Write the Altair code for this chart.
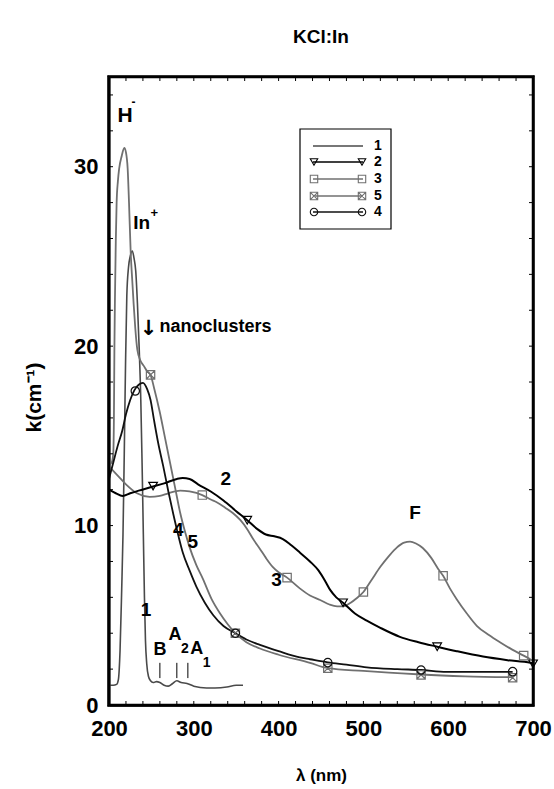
import altair as alt
import pandas as pd

# ---------------- data ----------------
c1_nm = [200, 205, 209, 211, 213, 215, 216.5, 218, 219.5, 221, 223, 225, 227.5, 229.5, 231.5, 233.5, 235.5, 237.5, 239, 240.5, 241.8, 243, 244.5, 246.5, 249, 252, 256, 260, 265, 270, 275, 280, 285, 292, 300, 315, 325, 339, 350, 358]
c1_k = [1.1, 1.1, 1.15, 1.4, 3.0, 6.5, 9.5, 14.0, 19.0, 22.8, 24.4, 25.0, 25.3, 24.9, 24.2, 22.4, 20.0, 17.0, 13.5, 9.5, 6.0, 3.6, 2.3, 1.6, 1.35, 1.25, 1.3, 1.25, 1.1, 1.05, 1.2, 1.35, 1.25, 1.2, 1.05, 0.95, 0.95, 1.0, 1.1, 1.1]

c2_nm = [200, 208, 216, 225, 235, 250, 265, 280, 287, 295, 305, 320, 335, 350, 363, 375, 385, 395, 405, 415, 425, 437, 447, 455, 461, 468, 476, 490, 504, 520, 543, 565, 587, 610, 641, 670, 697, 700]
c2_k = [12.0, 11.8, 11.65, 11.8, 11.95, 12.15, 12.35, 12.6, 12.65, 12.6, 12.3, 11.9, 11.4, 10.8, 10.3, 9.8, 9.5, 9.4, 9.25, 8.9, 8.5, 8.0, 7.5, 6.9, 6.4, 6.0, 5.7, 5.1, 4.7, 4.3, 3.8, 3.5, 3.25, 3.0, 2.7, 2.5, 2.35, 2.3]
c2_mk_nm = [252, 363, 476, 587, 700]
c2_mk_k = [12.2, 10.3, 5.7, 3.25, 2.3]

c3_nm = [200, 210, 220, 233, 248, 260, 270, 284, 295, 310, 320, 327, 337, 346, 355, 363, 370, 378, 385, 393, 400, 410, 425, 437, 449, 460, 469, 476, 485, 492, 500, 510, 520, 530, 540, 548, 555, 562, 570, 580, 588, 594, 602, 610, 622, 634, 648, 661, 675, 689, 697]
c3_k = [13.3, 12.8, 12.3, 11.8, 11.6, 11.65, 11.8, 11.95, 11.9, 11.7, 11.45, 11.3, 11.0, 10.7, 10.3, 9.8, 9.25, 8.7, 8.2, 7.7, 7.4, 7.1, 6.5, 6.1, 5.85, 5.6, 5.5, 5.5, 5.7, 5.95, 6.3, 7.0, 7.7, 8.3, 8.8, 9.05, 9.1, 9.0, 8.75, 8.2, 7.6, 7.2, 6.5, 5.9, 5.1, 4.4, 3.9, 3.5, 3.1, 2.75, 2.55]
c3_mk_nm = [310, 410, 500, 594, 689]
c3_mk_k = [11.7, 7.1, 6.3, 7.2, 2.75]

c5_nm = [200, 203, 205, 205.8, 206.4, 207, 208, 209, 210.5, 212, 215, 218, 220, 222, 223.6, 225.6, 227.5, 229, 231, 233.4, 237, 241, 245, 249, 253, 260, 266, 272, 278, 284, 290, 295, 303, 311, 321, 331, 340, 349, 362, 378, 400, 437, 458, 500, 540, 568, 620, 676]
c5_k = [13.4, 13.5, 14.0, 16.0, 20.0, 22.6, 25.8, 28.0, 29.2, 29.9, 30.6, 31.05, 30.8, 29.9, 28.0, 25.2, 23.6, 22.4, 21.0, 19.8, 19.2, 18.9, 18.6, 18.4, 17.7, 16.3, 14.9, 13.5, 12.1, 10.7, 9.6, 8.8, 7.8, 7.0, 5.9, 5.1, 4.5, 4.0, 3.5, 3.15, 2.8, 2.35, 2.05, 1.9, 1.78, 1.7, 1.6, 1.55]
c5_mk_nm = [249, 349, 458, 568, 676]
c5_mk_k = [18.4, 4.0, 2.05, 1.68, 1.52]

c4_nm = [200, 205, 210, 215.7, 220, 225, 230, 235, 240, 245, 249, 253, 258, 264, 270, 276, 282, 287, 295, 303, 313, 323, 335, 349, 362, 378, 400, 425, 437, 458, 480, 504, 540, 568, 598, 640, 676]
c4_k = [12.6, 13.5, 14.4, 15.3, 16.2, 17.0, 17.55, 17.85, 17.95, 17.6, 17.0, 15.9, 14.6, 13.3, 11.9, 10.6, 9.4, 8.5, 7.5, 6.6, 5.7, 5.0, 4.4, 4.0, 3.65, 3.35, 3.0, 2.65, 2.55, 2.38, 2.25, 2.1, 2.0, 1.95, 1.85, 1.85, 1.85]
c4_mk_nm = [231, 349, 458, 568, 676]
c4_mk_k = [17.5, 4.0, 2.36, 1.95, 1.86]

x_label_values = [200, 300, 400, 500, 600, 700]
y_label_values = [0, 10, 20, 30]
x_minor_ticks = list(range(200, 701, 20))
y_minor_ticks = list(range(0, 36, 2))
frame_nm = [200, 700, 700, 200, 200]
frame_k = [0, 0, 35, 35, 0]

legend_labels = ["1", "2", "3", "5", "4"]

# annotation texts (positions in data units)
big_txt = ["2", "3", "4", "5", "1", "F"]
big_nm = [337.6, 397.7, 281.8, 298.7, 243.6, 560.8]
big_k = [12.6, 6.97, 9.76, 9.07, 5.3, 10.7]

band_txt = ["B", "A", "A"]
band_nm = [260.1, 277.8, 303.4]
band_k = [3.07, 3.9, 3.1]
sub_txt = ["2", "1"]
sub_nm = [289.6, 315.2]
sub_k = [3.1, 2.32]
band_line_nm = [260, 280, 293]
band_line_lo = [1.5, 1.5, 1.5]
band_line_hi = [2.35, 2.35, 2.35]

# ---------------- styling ----------------
FONT = "Liberation Sans"
W, H = 424, 628
BLACK = "#000000"
DARK = "#4a4a4a"
GRAY = "#707070"

xs = alt.Scale(domain=[200, 700], nice=False, zero=False, padding=0)
ys = alt.Scale(domain=[0, 35], nice=False, zero=False, padding=0)

AX_X = alt.Axis(values=x_label_values, format="d", domain=True, domainColor="black", domainWidth=2,
                ticks=False, grid=False, labelFlush=False, labelOverlap=False,
                labelFont=FONT, labelFontSize=22, labelFontWeight="bold", labelColor="black",
                labelPadding=13, title="λ (nm)", titleFont=FONT, titleFontSize=17,
                titleFontWeight="bold", titleColor="black", titleBaseline="alphabetic",
                titleY=75)
AX_Y = alt.Axis(values=y_label_values, format="d", domain=True, domainColor="black", domainWidth=2,
                ticks=False, grid=False, labelFlush=False, labelOverlap=False,
                labelFont=FONT, labelFontSize=22, labelFontWeight="bold", labelColor="black",
                labelPadding=11, title="k(cm⁻¹)", titleFont=FONT, titleFontSize=21,
                titleFontWeight="bold", titleColor="black", titleBaseline="alphabetic",
                titleX=-69, titleY=320, titleAngle=270)


def X(field="nm"):
    return alt.X(f"{field}:Q", scale=xs, axis=AX_X)


def Y(field="k"):
    return alt.Y(f"{field}:Q", scale=ys, axis=AX_Y)


layers = []


def curve(nm, k, color, width):
    df = pd.DataFrame({"nm": nm, "k": k})
    return alt.Chart(df).mark_line(color=color, strokeWidth=width, interpolate="monotone", clip=True).encode(
        x=X(), y=Y())


def markers(nm, k, color, shape, size):
    df = pd.DataFrame({"nm": nm, "k": k})
    return alt.Chart(df).mark_point(color=color, shape=shape, size=size, filled=False,
                                    strokeWidth=1.2, opacity=1, clip=False).encode(x=X(), y=Y())


XSQ = "M-1,-1L1,-1L1,1L-1,1Z M-1,-1L1,1 M1,-1L-1,1"

layers += [
    curve(c1_nm, c1_k, DARK, 1.6),
    curve(c3_nm, c3_k, GRAY, 1.8),
    curve(c5_nm, c5_k, GRAY, 1.8),
    curve(c4_nm, c4_k, "#111111", 1.8),
    curve(c2_nm, c2_k, BLACK, 2.0),
    markers(c2_mk_nm, c2_mk_k, BLACK, "triangle-down", 75),
    markers(c3_mk_nm, c3_mk_k, GRAY, "square", 70),
    markers(c5_mk_nm, c5_mk_k, GRAY, XSQ, 70),
    markers(c4_mk_nm, c4_mk_k, "#111111", "circle", 70),
]

# inward ticks on all four sides
xt = pd.DataFrame({"nm": x_minor_ticks})
yt = pd.DataFrame({"k": y_minor_ticks})
layers += [
    alt.Chart(xt).mark_rule(color="black", strokeWidth=1).encode(x=X(), y=alt.value(H), y2=alt.value(H - 4)),
    alt.Chart(xt).mark_rule(color="black", strokeWidth=1).encode(x=X(), y=alt.value(0), y2=alt.value(4)),
    alt.Chart(yt).mark_rule(color="black", strokeWidth=1).encode(y=Y(), x=alt.value(0), x2=alt.value(4)),
    alt.Chart(yt).mark_rule(color="black", strokeWidth=1).encode(y=Y(), x=alt.value(W), x2=alt.value(W - 4)),
]

# plot frame drawn as a closed line path through the domain corners
frame_df = pd.DataFrame({"nm": frame_nm, "k": frame_k, "o": list(range(len(frame_nm)))})
layers.append(alt.Chart(frame_df).mark_line(color="black", strokeWidth=2.5, clip=False,
                                            strokeCap="square").encode(
    x=X(), y=Y(), order="o:Q"))

# second frame, just outside the plot edges (in pixel space)
one = pd.DataFrame({"a": [0]})
layers += [
    alt.Chart(one).mark_rule(color="black", strokeWidth=1.5).encode(
        x=alt.value(-1), y=alt.value(-1.5), y2=alt.value(H + 1.5)),
    alt.Chart(one).mark_rule(color="black", strokeWidth=1.5).encode(
        x=alt.value(W + 1), y=alt.value(-1.5), y2=alt.value(H + 1.5)),
    alt.Chart(one).mark_rule(color="black", strokeWidth=1.5).encode(
        y=alt.value(-1), x=alt.value(-1.5), x2=alt.value(W + 1.5)),
    alt.Chart(one).mark_rule(color="black", strokeWidth=1.5).encode(
        y=alt.value(H + 1), x=alt.value(-1.5), x2=alt.value(W + 1.5)),
]


# annotations
def texts(txt, nm, k, size, align="center", font=FONT):
    df = pd.DataFrame({"t": txt, "nm": nm, "k": k})
    return alt.Chart(df).mark_text(font=font, fontSize=size, fontWeight="bold", color="black",
                                   align=align, baseline="middle").encode(x=X(), y=Y(), text="t:N")


layers += [
    texts(big_txt, big_nm, big_k, 19),
    texts(["H"], [218.9], [32.8], 21),
    texts(["-"], [229.0], [33.6], 12),
    texts(["In"], [238.5], [26.85], 19),
    texts(["+"], [253.4], [27.4], 13),
    texts(["↓"], [246.5], [20.95], 21, font="DejaVu Sans"),
    texts(["nanoclusters"], [259.5], [21.05], 18, align="left"),
    texts(band_txt, band_nm, band_k, 18),
    texts(sub_txt, sub_nm, sub_k, 14),
    alt.Chart(pd.DataFrame({"nm": band_line_nm, "lo": band_line_lo, "hi": band_line_hi}))
       .mark_rule(color="black", strokeWidth=1).encode(x=X(), y=Y("lo"), y2="hi:Q"),
]

# legend box (drawn in pixel space)
LX0, LX1, LY0, LY1 = 191, 282, 52, 152
layers.append(alt.Chart(one).mark_rect(fill="white", stroke="black", strokeWidth=1.2).encode(
    x=alt.value(LX0), x2=alt.value(LX1), y=alt.value(LY0), y2=alt.value(LY1)))
row_y = [69, 85, 102, 119, 135]
row_color = [DARK, BLACK, GRAY, GRAY, "#111111"]
row_shape = [None, "triangle-down", "square", XSQ, "circle"]
for lab, ry, col, shp in zip(legend_labels, row_y, row_color, row_shape):
    layers.append(alt.Chart(one).mark_rule(color=col, strokeWidth=1.5).encode(
        x=alt.value(204), x2=alt.value(254), y=alt.value(ry)))
    if shp is not None:
        for mx in (205, 253):
            layers.append(alt.Chart(one).mark_point(color=col, shape=shp, size=55, filled=False,
                                                    strokeWidth=1.1, opacity=1).encode(
                x=alt.value(mx), y=alt.value(ry)))
    layers.append(alt.Chart(one).mark_text(text=lab, font=FONT, fontSize=14, fontWeight="bold",
                                           color="black", align="center", baseline="middle").encode(
        x=alt.value(269), y=alt.value(ry)))

chart = alt.layer(*layers).properties(
    width=W, height=H,
    background="white",
    title=alt.TitleParams("KCl:In", font=FONT, fontSize=19, fontWeight="bold", color="black",
                          anchor="middle", offset=25),
    autosize=alt.AutoSizeParams(type="none"),
    padding={"left": 109, "top": 77, "right": 21, "bottom": 84},
).configure_view(stroke="black", strokeWidth=2)

chart.save("out.html", embed_options={"renderer": "svg", "actions": False})
